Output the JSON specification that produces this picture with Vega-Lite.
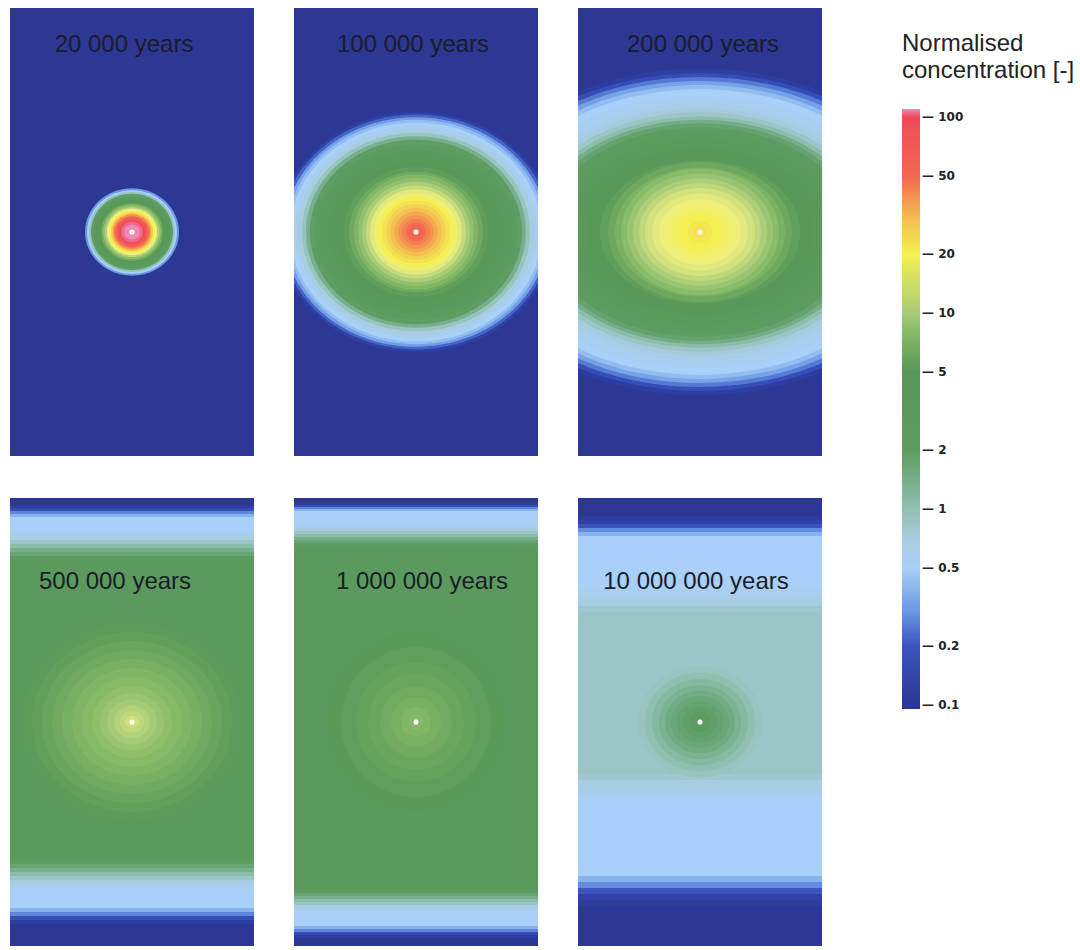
{
  "$schema": "https://vega.github.io/schema/vega-lite/v6.json",
  "padding": {"left": 10, "top": 8, "right": 0, "bottom": 0},
  "background": "white",
  "config": {
    "view": {"stroke": null},
    "font": "Liberation Sans",
    "legend": {"orient": "none", "legendX": 892, "legendY": 24, "direction": "vertical",
      "gradientLength": 600, "gradientThickness": 18, "gradientStrokeWidth": 0,
      "labelFont": "DejaVu Sans", "labelFontWeight": "bold", "labelFontSize": 12, "labelColor": "#222222", "labelOffset": 2,
      "titleFont": "Liberation Sans", "titleFontSize": 24, "titleFontWeight": "normal", "titleColor": "#222222",
      "titlePadding": 26, "titleLineHeight": 27, "titleLimit": 400}
  },
  "resolve": {"scale": {"color": "shared", "size": "shared", "shape": "shared"}, "legend": {"color": "shared"}},
  "columns": 3,
  "spacing": {"row": 42, "column": 40},
  "data": {"values": [
    {"p":"20 000 years","k":"b","x1":-122,"x2":122,"y1":224,"y2":-224,"v":0.1},
    {"p":"100 000 years","k":"b","x1":-122,"x2":122,"y1":224,"y2":-224,"v":0.1},
    {"p":"200 000 years","k":"b","x1":-122,"x2":122,"y1":224,"y2":-224,"v":0.1},

    {"p":"20 000 years","k":"r","cx":0,"cy":0,"r":47,"sh":"e93","v":0.3},
    {"p":"20 000 years","k":"r","cx":0,"cy":0,"r":45,"sh":"e93","v":0.5},
    {"p":"20 000 years","k":"r","cx":0,"cy":0,"r":43,"sh":"e93","v":0.9},
    {"p":"20 000 years","k":"r","cx":0,"cy":0,"r":41,"sh":"e93","v":1.8},
    {"p":"20 000 years","k":"r","cx":0,"cy":0,"r":39,"sh":"e93","v":2.8},
    {"p":"20 000 years","k":"r","cx":0,"cy":0,"r":36,"sh":"e93","v":3.8},
    {"p":"20 000 years","k":"r","cx":0,"cy":0,"r":33,"sh":"e93","v":5},
    {"p":"20 000 years","k":"r","cx":0,"cy":0,"r":31,"sh":"e93","v":6.5},
    {"p":"20 000 years","k":"r","cx":0,"cy":0,"r":29,"sh":"e93","v":8.5},
    {"p":"20 000 years","k":"r","cx":0,"cy":0,"r":27,"sh":"e93","v":11},
    {"p":"20 000 years","k":"r","cx":0,"cy":0,"r":25,"sh":"e93","v":15},
    {"p":"20 000 years","k":"r","cx":0,"cy":0,"r":23,"sh":"e93","v":20},
    {"p":"20 000 years","k":"r","cx":0,"cy":0,"r":21,"sh":"e93","v":28},
    {"p":"20 000 years","k":"r","cx":0,"cy":0,"r":19,"sh":"e93","v":40},
    {"p":"20 000 years","k":"r","cx":0,"cy":0,"r":17,"sh":"e93","v":55},
    {"p":"20 000 years","k":"r","cx":0,"cy":0,"r":15,"sh":"e93","v":75},
    {"p":"20 000 years","k":"r","cx":0,"cy":0,"r":13,"sh":"e93","v":95},
    {"p":"20 000 years","k":"r","cx":0,"cy":0,"r":11,"sh":"e93","v":105},
    {"p":"20 000 years","k":"r","cx":0,"cy":0,"r":8,"sh":"e93","v":110},

    {"p":"100 000 years","k":"r","cx":0,"cy":0,"r":138,"sh":"e87","v":0.15},
    {"p":"100 000 years","k":"r","cx":0,"cy":0,"r":135,"sh":"e87","v":0.22},
    {"p":"100 000 years","k":"r","cx":0,"cy":0,"r":132,"sh":"e87","v":0.32},
    {"p":"100 000 years","k":"r","cx":0,"cy":0,"r":129,"sh":"e87","v":0.42},
    {"p":"100 000 years","k":"r","cx":0,"cy":0,"r":126,"sh":"e87","v":0.5},
    {"p":"100 000 years","k":"r","cx":0,"cy":0,"r":122,"sh":"e87","v":0.58},
    {"p":"100 000 years","k":"r","cx":0,"cy":0,"r":118,"sh":"e87","v":0.7},
    {"p":"100 000 years","k":"r","cx":0,"cy":0,"r":114,"sh":"e87","v":0.9},
    {"p":"100 000 years","k":"r","cx":0,"cy":0,"r":110,"sh":"e87","v":1.3},
    {"p":"100 000 years","k":"r","cx":0,"cy":0,"r":106,"sh":"e87","v":1.9},
    {"p":"100 000 years","k":"r","cx":0,"cy":0,"r":101,"sh":"e87","v":2.6},
    {"p":"100 000 years","k":"r","cx":0,"cy":0,"r":94,"sh":"e87","v":3.3},
    {"p":"100 000 years","k":"r","cx":0,"cy":0,"r":86,"sh":"e90","v":4},
    {"p":"100 000 years","k":"r","cx":0,"cy":0,"r":78,"sh":"e90","v":4.7},
    {"p":"100 000 years","k":"r","cx":0,"cy":0,"r":72,"sh":"e90","v":5.4},
    {"p":"100 000 years","k":"r","cx":0,"cy":0,"r":67,"sh":"e90","v":6.3},
    {"p":"100 000 years","k":"r","cx":0,"cy":0,"r":62,"sh":"e93","v":7.4},
    {"p":"100 000 years","k":"r","cx":0,"cy":0,"r":58,"sh":"e93","v":8.6},
    {"p":"100 000 years","k":"r","cx":0,"cy":0,"r":54,"sh":"e93","v":10},
    {"p":"100 000 years","k":"r","cx":0,"cy":0,"r":50,"sh":"e93","v":11.8},
    {"p":"100 000 years","k":"r","cx":0,"cy":0,"r":46,"sh":"e93","v":14},
    {"p":"100 000 years","k":"r","cx":0,"cy":0,"r":42,"sh":"e93","v":16.5},
    {"p":"100 000 years","k":"r","cx":0,"cy":0,"r":38,"sh":"e93","v":19.5},
    {"p":"100 000 years","k":"r","cx":0,"cy":0,"r":34,"sh":"e93","v":22.5},
    {"p":"100 000 years","k":"r","cx":0,"cy":0,"r":30,"sh":"e93","v":26},
    {"p":"100 000 years","k":"r","cx":0,"cy":0,"r":26,"sh":"e93","v":30},
    {"p":"100 000 years","k":"r","cx":0,"cy":0,"r":22,"sh":"e93","v":34},
    {"p":"100 000 years","k":"r","cx":0,"cy":0,"r":18,"sh":"e93","v":39},
    {"p":"100 000 years","k":"r","cx":0,"cy":0,"r":14,"sh":"e93","v":44},
    {"p":"100 000 years","k":"r","cx":0,"cy":0,"r":10,"sh":"e93","v":49},
    {"p":"100 000 years","k":"r","cx":0,"cy":0,"r":6,"sh":"e93","v":54},

    {"p":"200 000 years","k":"r","cx":0,"cy":0,"r":240,"sh":"e68","v":0.13},
    {"p":"200 000 years","k":"r","cx":0,"cy":0,"r":234,"sh":"e68","v":0.18},
    {"p":"200 000 years","k":"r","cx":0,"cy":0,"r":228,"sh":"e68","v":0.25},
    {"p":"200 000 years","k":"r","cx":0,"cy":0,"r":222,"sh":"e68","v":0.33},
    {"p":"200 000 years","k":"r","cx":0,"cy":0,"r":216,"sh":"e68","v":0.42},
    {"p":"200 000 years","k":"r","cx":0,"cy":0,"r":210,"sh":"e68","v":0.5},
    {"p":"200 000 years","k":"r","cx":0,"cy":0,"r":200,"sh":"e68","v":0.55},
    {"p":"200 000 years","k":"r","cx":0,"cy":0,"r":190,"sh":"e68","v":0.62},
    {"p":"200 000 years","k":"r","cx":0,"cy":0,"r":182,"sh":"e68","v":0.72},
    {"p":"200 000 years","k":"r","cx":0,"cy":0,"r":176,"sh":"e68","v":0.85},
    {"p":"200 000 years","k":"r","cx":0,"cy":0,"r":170,"sh":"e68","v":1.05},
    {"p":"200 000 years","k":"r","cx":0,"cy":0,"r":165,"sh":"e68","v":1.35},
    {"p":"200 000 years","k":"r","cx":0,"cy":0,"r":160,"sh":"e68","v":1.7},
    {"p":"200 000 years","k":"r","cx":0,"cy":0,"r":154,"sh":"e68","v":2.1},
    {"p":"200 000 years","k":"r","cx":0,"cy":0,"r":146,"sh":"e68","v":2.6},
    {"p":"200 000 years","k":"r","cx":0,"cy":0,"r":136,"sh":"e68","v":3.2},
    {"p":"200 000 years","k":"r","cx":0,"cy":0,"r":124,"sh":"e68","v":3.9},
    {"p":"200 000 years","k":"r","cx":0,"cy":0,"r":112,"sh":"e72","v":4.6},
    {"p":"200 000 years","k":"r","cx":0,"cy":0,"r":100,"sh":"e72","v":5.4},
    {"p":"200 000 years","k":"r","cx":0,"cy":0,"r":92,"sh":"e76","v":6.2},
    {"p":"200 000 years","k":"r","cx":0,"cy":0,"r":85,"sh":"e76","v":7},
    {"p":"200 000 years","k":"r","cx":0,"cy":0,"r":79,"sh":"e80","v":8},
    {"p":"200 000 years","k":"r","cx":0,"cy":0,"r":73,"sh":"e80","v":9},
    {"p":"200 000 years","k":"r","cx":0,"cy":0,"r":67,"sh":"e80","v":10.2},
    {"p":"200 000 years","k":"r","cx":0,"cy":0,"r":61,"sh":"e80","v":11.5},
    {"p":"200 000 years","k":"r","cx":0,"cy":0,"r":55,"sh":"e80","v":12.8},
    {"p":"200 000 years","k":"r","cx":0,"cy":0,"r":48,"sh":"e80","v":14},
    {"p":"200 000 years","k":"r","cx":0,"cy":0,"r":41,"sh":"e80","v":15.5},
    {"p":"200 000 years","k":"r","cx":0,"cy":0,"r":34,"sh":"e80","v":17},
    {"p":"200 000 years","k":"r","cx":0,"cy":0,"r":27,"sh":"e80","v":18.5},
    {"p":"200 000 years","k":"r","cx":0,"cy":0,"r":20,"sh":"e80","v":20},
    {"p":"200 000 years","k":"r","cx":0,"cy":0,"r":13,"sh":"e80","v":21.5},
    {"p":"200 000 years","k":"r","cx":0,"cy":0,"r":7,"sh":"e80","v":22.5},

    {"p":"500 000 years","k":"b","x1":-122,"x2":122,"y1":224,"y2":217,"v":0.1},
    {"p":"500 000 years","k":"b","x1":-122,"x2":122,"y1":217,"y2":214,"v":0.13},
    {"p":"500 000 years","k":"b","x1":-122,"x2":122,"y1":214,"y2":211,"v":0.18},
    {"p":"500 000 years","k":"b","x1":-122,"x2":122,"y1":211,"y2":208,"v":0.27},
    {"p":"500 000 years","k":"b","x1":-122,"x2":122,"y1":208,"y2":205,"v":0.38},
    {"p":"500 000 years","k":"b","x1":-122,"x2":122,"y1":205,"y2":190,"v":0.5},
    {"p":"500 000 years","k":"b","x1":-122,"x2":122,"y1":190,"y2":186,"v":0.6},
    {"p":"500 000 years","k":"b","x1":-122,"x2":122,"y1":186,"y2":182,"v":0.7},
    {"p":"500 000 years","k":"b","x1":-122,"x2":122,"y1":182,"y2":178,"v":0.85},
    {"p":"500 000 years","k":"b","x1":-122,"x2":122,"y1":178,"y2":174,"v":1.05},
    {"p":"500 000 years","k":"b","x1":-122,"x2":122,"y1":174,"y2":170,"v":1.3},
    {"p":"500 000 years","k":"b","x1":-122,"x2":122,"y1":170,"y2":166,"v":1.6},
    {"p":"500 000 years","k":"b","x1":-122,"x2":122,"y1":166,"y2":162,"v":2},
    {"p":"500 000 years","k":"b","x1":-122,"x2":122,"y1":162,"y2":-138,"v":3},
    {"p":"500 000 years","k":"b","x1":-122,"x2":122,"y1":-138,"y2":-142,"v":2},
    {"p":"500 000 years","k":"b","x1":-122,"x2":122,"y1":-142,"y2":-146,"v":1.6},
    {"p":"500 000 years","k":"b","x1":-122,"x2":122,"y1":-146,"y2":-150,"v":1.3},
    {"p":"500 000 years","k":"b","x1":-122,"x2":122,"y1":-150,"y2":-154,"v":1.05},
    {"p":"500 000 years","k":"b","x1":-122,"x2":122,"y1":-154,"y2":-158,"v":0.85},
    {"p":"500 000 years","k":"b","x1":-122,"x2":122,"y1":-158,"y2":-162,"v":0.7},
    {"p":"500 000 years","k":"b","x1":-122,"x2":122,"y1":-162,"y2":-166,"v":0.6},
    {"p":"500 000 years","k":"b","x1":-122,"x2":122,"y1":-166,"y2":-186,"v":0.5},
    {"p":"500 000 years","k":"b","x1":-122,"x2":122,"y1":-186,"y2":-190,"v":0.38},
    {"p":"500 000 years","k":"b","x1":-122,"x2":122,"y1":-190,"y2":-194,"v":0.27},
    {"p":"500 000 years","k":"b","x1":-122,"x2":122,"y1":-194,"y2":-198,"v":0.18},
    {"p":"500 000 years","k":"b","x1":-122,"x2":122,"y1":-198,"y2":-202,"v":0.13},
    {"p":"500 000 years","k":"b","x1":-122,"x2":122,"y1":-202,"y2":-224,"v":0.1},
    {"p":"500 000 years","k":"r","cx":0,"cy":0,"r":110,"sh":"e90","v":5.2},
    {"p":"500 000 years","k":"r","cx":0,"cy":0,"r":100,"sh":"e90","v":5.5},
    {"p":"500 000 years","k":"r","cx":0,"cy":0,"r":90,"sh":"e90","v":5.9},
    {"p":"500 000 years","k":"r","cx":0,"cy":0,"r":80,"sh":"e90","v":6.3},
    {"p":"500 000 years","k":"r","cx":0,"cy":0,"r":70,"sh":"e90","v":6.8},
    {"p":"500 000 years","k":"r","cx":0,"cy":0,"r":60,"sh":"e90","v":7.3},
    {"p":"500 000 years","k":"r","cx":0,"cy":0,"r":50,"sh":"e90","v":7.8},
    {"p":"500 000 years","k":"r","cx":0,"cy":0,"r":40,"sh":"e90","v":8.4},
    {"p":"500 000 years","k":"r","cx":0,"cy":0,"r":32,"sh":"e90","v":9},
    {"p":"500 000 years","k":"r","cx":0,"cy":0,"r":25,"sh":"e90","v":9.8},
    {"p":"500 000 years","k":"r","cx":0,"cy":0,"r":18,"sh":"e90","v":10.7},
    {"p":"500 000 years","k":"r","cx":0,"cy":0,"r":12,"sh":"e90","v":11.5},
    {"p":"500 000 years","k":"r","cx":0,"cy":0,"r":7,"sh":"e90","v":12.5},

    {"p":"1 000 000 years","k":"b","x1":-122,"x2":122,"y1":224,"y2":219,"v":0.1},
    {"p":"1 000 000 years","k":"b","x1":-122,"x2":122,"y1":219,"y2":217,"v":0.13},
    {"p":"1 000 000 years","k":"b","x1":-122,"x2":122,"y1":217,"y2":215,"v":0.18},
    {"p":"1 000 000 years","k":"b","x1":-122,"x2":122,"y1":215,"y2":213,"v":0.27},
    {"p":"1 000 000 years","k":"b","x1":-122,"x2":122,"y1":213,"y2":211,"v":0.38},
    {"p":"1 000 000 years","k":"b","x1":-122,"x2":122,"y1":211,"y2":197,"v":0.5},
    {"p":"1 000 000 years","k":"b","x1":-122,"x2":122,"y1":197,"y2":194,"v":0.6},
    {"p":"1 000 000 years","k":"b","x1":-122,"x2":122,"y1":194,"y2":191,"v":0.7},
    {"p":"1 000 000 years","k":"b","x1":-122,"x2":122,"y1":191,"y2":188,"v":0.85},
    {"p":"1 000 000 years","k":"b","x1":-122,"x2":122,"y1":188,"y2":185,"v":1.05},
    {"p":"1 000 000 years","k":"b","x1":-122,"x2":122,"y1":185,"y2":182,"v":1.3},
    {"p":"1 000 000 years","k":"b","x1":-122,"x2":122,"y1":182,"y2":179,"v":1.6},
    {"p":"1 000 000 years","k":"b","x1":-122,"x2":122,"y1":179,"y2":176,"v":2},
    {"p":"1 000 000 years","k":"b","x1":-122,"x2":122,"y1":176,"y2":-168,"v":3},
    {"p":"1 000 000 years","k":"b","x1":-122,"x2":122,"y1":-168,"y2":-171,"v":2},
    {"p":"1 000 000 years","k":"b","x1":-122,"x2":122,"y1":-171,"y2":-174,"v":1.6},
    {"p":"1 000 000 years","k":"b","x1":-122,"x2":122,"y1":-174,"y2":-177,"v":1.3},
    {"p":"1 000 000 years","k":"b","x1":-122,"x2":122,"y1":-177,"y2":-180,"v":1.05},
    {"p":"1 000 000 years","k":"b","x1":-122,"x2":122,"y1":-180,"y2":-183,"v":0.85},
    {"p":"1 000 000 years","k":"b","x1":-122,"x2":122,"y1":-183,"y2":-186,"v":0.7},
    {"p":"1 000 000 years","k":"b","x1":-122,"x2":122,"y1":-186,"y2":-189,"v":0.6},
    {"p":"1 000 000 years","k":"b","x1":-122,"x2":122,"y1":-189,"y2":-204,"v":0.5},
    {"p":"1 000 000 years","k":"b","x1":-122,"x2":122,"y1":-204,"y2":-207,"v":0.38},
    {"p":"1 000 000 years","k":"b","x1":-122,"x2":122,"y1":-207,"y2":-210,"v":0.27},
    {"p":"1 000 000 years","k":"b","x1":-122,"x2":122,"y1":-210,"y2":-213,"v":0.18},
    {"p":"1 000 000 years","k":"b","x1":-122,"x2":122,"y1":-213,"y2":-216,"v":0.13},
    {"p":"1 000 000 years","k":"b","x1":-122,"x2":122,"y1":-216,"y2":-224,"v":0.1},
    {"p":"1 000 000 years","k":"r","cx":0,"cy":0,"r":90,"sh":"c","v":5.1},
    {"p":"1 000 000 years","k":"r","cx":0,"cy":0,"r":75,"sh":"c","v":5.4},
    {"p":"1 000 000 years","k":"r","cx":0,"cy":0,"r":60,"sh":"c","v":5.7},
    {"p":"1 000 000 years","k":"r","cx":0,"cy":0,"r":48,"sh":"c","v":6},
    {"p":"1 000 000 years","k":"r","cx":0,"cy":0,"r":36,"sh":"c","v":6.4},
    {"p":"1 000 000 years","k":"r","cx":0,"cy":0,"r":25,"sh":"c","v":6.9},
    {"p":"1 000 000 years","k":"r","cx":0,"cy":0,"r":15,"sh":"c","v":7.4},
    {"p":"1 000 000 years","k":"r","cx":0,"cy":0,"r":8,"sh":"c","v":7.8},

    {"p":"10 000 000 years","k":"b","x1":-122,"x2":122,"y1":224,"y2":206,"v":0.1},
    {"p":"10 000 000 years","k":"b","x1":-122,"x2":122,"y1":206,"y2":202,"v":0.12},
    {"p":"10 000 000 years","k":"b","x1":-122,"x2":122,"y1":202,"y2":198,"v":0.15},
    {"p":"10 000 000 years","k":"b","x1":-122,"x2":122,"y1":198,"y2":194,"v":0.2},
    {"p":"10 000 000 years","k":"b","x1":-122,"x2":122,"y1":194,"y2":190,"v":0.28},
    {"p":"10 000 000 years","k":"b","x1":-122,"x2":122,"y1":190,"y2":186,"v":0.38},
    {"p":"10 000 000 years","k":"b","x1":-122,"x2":122,"y1":186,"y2":134,"v":0.5},
    {"p":"10 000 000 years","k":"b","x1":-122,"x2":122,"y1":134,"y2":128,"v":0.56},
    {"p":"10 000 000 years","k":"b","x1":-122,"x2":122,"y1":128,"y2":122,"v":0.62},
    {"p":"10 000 000 years","k":"b","x1":-122,"x2":122,"y1":122,"y2":116,"v":0.7},
    {"p":"10 000 000 years","k":"b","x1":-122,"x2":122,"y1":116,"y2":110,"v":0.78},
    {"p":"10 000 000 years","k":"b","x1":-122,"x2":122,"y1":110,"y2":-52,"v":0.85},
    {"p":"10 000 000 years","k":"b","x1":-122,"x2":122,"y1":-52,"y2":-58,"v":0.78},
    {"p":"10 000 000 years","k":"b","x1":-122,"x2":122,"y1":-58,"y2":-64,"v":0.7},
    {"p":"10 000 000 years","k":"b","x1":-122,"x2":122,"y1":-64,"y2":-70,"v":0.62},
    {"p":"10 000 000 years","k":"b","x1":-122,"x2":122,"y1":-70,"y2":-76,"v":0.56},
    {"p":"10 000 000 years","k":"b","x1":-122,"x2":122,"y1":-76,"y2":-154,"v":0.5},
    {"p":"10 000 000 years","k":"b","x1":-122,"x2":122,"y1":-154,"y2":-160,"v":0.38},
    {"p":"10 000 000 years","k":"b","x1":-122,"x2":122,"y1":-160,"y2":-166,"v":0.28},
    {"p":"10 000 000 years","k":"b","x1":-122,"x2":122,"y1":-166,"y2":-172,"v":0.2},
    {"p":"10 000 000 years","k":"b","x1":-122,"x2":122,"y1":-172,"y2":-178,"v":0.15},
    {"p":"10 000 000 years","k":"b","x1":-122,"x2":122,"y1":-178,"y2":-184,"v":0.12},
    {"p":"10 000 000 years","k":"b","x1":-122,"x2":122,"y1":-184,"y2":-224,"v":0.1},
    {"p":"10 000 000 years","k":"r","cx":0,"cy":0,"r":62,"sh":"e90","v":0.9},
    {"p":"10 000 000 years","k":"r","cx":0,"cy":0,"r":55,"sh":"e90","v":1.0},
    {"p":"10 000 000 years","k":"r","cx":0,"cy":0,"r":48,"sh":"e90","v":1.12},
    {"p":"10 000 000 years","k":"r","cx":0,"cy":0,"r":41,"sh":"e90","v":1.25},
    {"p":"10 000 000 years","k":"r","cx":0,"cy":0,"r":35,"sh":"e90","v":1.4},
    {"p":"10 000 000 years","k":"r","cx":0,"cy":0,"r":29,"sh":"e90","v":1.55},
    {"p":"10 000 000 years","k":"r","cx":0,"cy":0,"r":23,"sh":"e90","v":1.7},
    {"p":"10 000 000 years","k":"r","cx":0,"cy":0,"r":17,"sh":"e90","v":1.85},
    {"p":"10 000 000 years","k":"r","cx":0,"cy":0,"r":11,"sh":"e90","v":2},
    {"p":"10 000 000 years","k":"r","cx":0,"cy":0,"r":6,"sh":"e90","v":2.1},

    {"p":"20 000 years","k":"s","cx":0,"cy":0},
    {"p":"100 000 years","k":"s","cx":0,"cy":0},
    {"p":"200 000 years","k":"s","cx":0,"cy":0},
    {"p":"500 000 years","k":"s","cx":0,"cy":0},
    {"p":"1 000 000 years","k":"s","cx":0,"cy":0},
    {"p":"10 000 000 years","k":"s","cx":0,"cy":0},

    {"p":"20 000 years","k":"t","cx":-8,"cy":180},
    {"p":"100 000 years","k":"t","cx":-3,"cy":180},
    {"p":"200 000 years","k":"t","cx":3,"cy":180},
    {"p":"500 000 years","k":"t","cx":-17,"cy":133},
    {"p":"1 000 000 years","k":"t","cx":6,"cy":133},
    {"p":"10 000 000 years","k":"t","cx":-4,"cy":133}
  ]},
  "concat": [
    {"width": 244, "height": 448, "transform": [{"filter": "datum.p == '20 000 years'"}], "layer": [
      {"transform": [{"filter": "datum.k == 'b'"}], "mark": {"type": "rect", "clip": true}, "encoding": {
        "x": {"field": "x1", "type": "quantitative", "scale": {"domain": [-122, 122], "nice": false, "zero": false}, "axis": null}, "x2": {"field": "x2"},
        "y": {"field": "y1", "type": "quantitative", "scale": {"domain": [-224, 224], "nice": false, "zero": false}, "axis": null}, "y2": {"field": "y2"},
        "color": {"field": "v", "type": "quantitative", "title": ["Normalised", "concentration [-]"], "scale": {"type": "log", "interpolate": "rgb", "domain": [0.095,0.15,0.2,0.3,0.5,0.7,1,1.5,2,5,8,10,15,20,30,50,100,110], "range": ["#2b3790","#3040a8","#3a55c0","#6a98e4","#a8d0f8","#a8cce0","#90c0b0","#6aa87a","#5c9c60","#589858","#88bc68","#a8cc78","#eef080","#f4f050","#f4c050","#f26850","#f04a58","#f088b8"]}, "legend": {"values": [0.1,0.2,0.5,1,2,5,10,20,50,100], "format": "~g", "labelExpr": "'\u2014  ' + datum.label"}}}},
      {"transform": [{"filter": "datum.k == 'r'"}], "mark": {"type": "point", "filled": true, "opacity": 1, "strokeWidth": 0, "clip": true}, "encoding": {
        "x": {"field": "cx", "type": "quantitative", "axis": null}, "y": {"field": "cy", "type": "quantitative", "axis": null},
        "size": {"field": "r", "type": "quantitative", "scale": {"type": "pow", "exponent": 2, "domain": [0, 250], "range": [0, 250000]}, "legend": null},
        "shape": {"field": "sh", "type": "nominal", "legend": null, "scale": {"domain": ["e68","e72","e76","e80","e87","e90","e93","c"], "range": ["M-1,0A1,0.68,0,1,1,1,0A1,0.68,0,1,1,-1,0Z","M-1,0A1,0.72,0,1,1,1,0A1,0.72,0,1,1,-1,0Z","M-1,0A1,0.76,0,1,1,1,0A1,0.76,0,1,1,-1,0Z","M-1,0A1,0.8,0,1,1,1,0A1,0.8,0,1,1,-1,0Z","M-1,0A1,0.87,0,1,1,1,0A1,0.87,0,1,1,-1,0Z","M-1,0A1,0.9,0,1,1,1,0A1,0.9,0,1,1,-1,0Z","M-1,0A1,0.93,0,1,1,1,0A1,0.93,0,1,1,-1,0Z","circle"]}},
        "order": {"field": "r", "sort": "descending"},
        "color": {"field": "v", "type": "quantitative", "title": ["Normalised", "concentration [-]"], "scale": {"type": "log", "interpolate": "rgb", "domain": [0.095,0.15,0.2,0.3,0.5,0.7,1,1.5,2,5,8,10,15,20,30,50,100,110], "range": ["#2b3790","#3040a8","#3a55c0","#6a98e4","#a8d0f8","#a8cce0","#90c0b0","#6aa87a","#5c9c60","#589858","#88bc68","#a8cc78","#eef080","#f4f050","#f4c050","#f26850","#f04a58","#f088b8"]}, "legend": {"values": [0.1,0.2,0.5,1,2,5,10,20,50,100], "format": "~g", "labelExpr": "'\u2014  ' + datum.label"}}}},
      {"transform": [{"filter": "datum.k == 's'"}], "mark": {"type": "point", "filled": true, "opacity": 1, "strokeWidth": 0, "color": "#ffffff", "size": 26}, "encoding": {
        "x": {"field": "cx", "type": "quantitative", "axis": null}, "y": {"field": "cy", "type": "quantitative", "axis": null}}},
      {"transform": [{"filter": "datum.k == 't'"}], "mark": {"type": "text", "font": "Liberation Sans", "fontSize": 24, "baseline": "alphabetic", "color": "#1c1c2a"}, "encoding": {
        "x": {"field": "cx", "type": "quantitative", "axis": null}, "y": {"field": "cy", "type": "quantitative", "axis": null}, "text": {"field": "p", "type": "nominal"}}}
    ]},
    {"width": 244, "height": 448, "transform": [{"filter": "datum.p == '100 000 years'"}], "layer": [
      {"transform": [{"filter": "datum.k == 'b'"}], "mark": {"type": "rect", "clip": true}, "encoding": {
        "x": {"field": "x1", "type": "quantitative", "scale": {"domain": [-122, 122], "nice": false, "zero": false}, "axis": null}, "x2": {"field": "x2"},
        "y": {"field": "y1", "type": "quantitative", "scale": {"domain": [-224, 224], "nice": false, "zero": false}, "axis": null}, "y2": {"field": "y2"},
        "color": {"field": "v", "type": "quantitative", "title": ["Normalised", "concentration [-]"], "scale": {"type": "log", "interpolate": "rgb", "domain": [0.095,0.15,0.2,0.3,0.5,0.7,1,1.5,2,5,8,10,15,20,30,50,100,110], "range": ["#2b3790","#3040a8","#3a55c0","#6a98e4","#a8d0f8","#a8cce0","#90c0b0","#6aa87a","#5c9c60","#589858","#88bc68","#a8cc78","#eef080","#f4f050","#f4c050","#f26850","#f04a58","#f088b8"]}, "legend": {"values": [0.1,0.2,0.5,1,2,5,10,20,50,100], "format": "~g", "labelExpr": "'\u2014  ' + datum.label"}}}},
      {"transform": [{"filter": "datum.k == 'r'"}], "mark": {"type": "point", "filled": true, "opacity": 1, "strokeWidth": 0, "clip": true}, "encoding": {
        "x": {"field": "cx", "type": "quantitative", "axis": null}, "y": {"field": "cy", "type": "quantitative", "axis": null},
        "size": {"field": "r", "type": "quantitative", "scale": {"type": "pow", "exponent": 2, "domain": [0, 250], "range": [0, 250000]}, "legend": null},
        "shape": {"field": "sh", "type": "nominal", "legend": null, "scale": {"domain": ["e68","e72","e76","e80","e87","e90","e93","c"], "range": ["M-1,0A1,0.68,0,1,1,1,0A1,0.68,0,1,1,-1,0Z","M-1,0A1,0.72,0,1,1,1,0A1,0.72,0,1,1,-1,0Z","M-1,0A1,0.76,0,1,1,1,0A1,0.76,0,1,1,-1,0Z","M-1,0A1,0.8,0,1,1,1,0A1,0.8,0,1,1,-1,0Z","M-1,0A1,0.87,0,1,1,1,0A1,0.87,0,1,1,-1,0Z","M-1,0A1,0.9,0,1,1,1,0A1,0.9,0,1,1,-1,0Z","M-1,0A1,0.93,0,1,1,1,0A1,0.93,0,1,1,-1,0Z","circle"]}},
        "order": {"field": "r", "sort": "descending"},
        "color": {"field": "v", "type": "quantitative", "title": ["Normalised", "concentration [-]"], "scale": {"type": "log", "interpolate": "rgb", "domain": [0.095,0.15,0.2,0.3,0.5,0.7,1,1.5,2,5,8,10,15,20,30,50,100,110], "range": ["#2b3790","#3040a8","#3a55c0","#6a98e4","#a8d0f8","#a8cce0","#90c0b0","#6aa87a","#5c9c60","#589858","#88bc68","#a8cc78","#eef080","#f4f050","#f4c050","#f26850","#f04a58","#f088b8"]}, "legend": {"values": [0.1,0.2,0.5,1,2,5,10,20,50,100], "format": "~g", "labelExpr": "'\u2014  ' + datum.label"}}}},
      {"transform": [{"filter": "datum.k == 's'"}], "mark": {"type": "point", "filled": true, "opacity": 1, "strokeWidth": 0, "color": "#ffffff", "size": 26}, "encoding": {
        "x": {"field": "cx", "type": "quantitative", "axis": null}, "y": {"field": "cy", "type": "quantitative", "axis": null}}},
      {"transform": [{"filter": "datum.k == 't'"}], "mark": {"type": "text", "font": "Liberation Sans", "fontSize": 24, "baseline": "alphabetic", "color": "#1c1c2a"}, "encoding": {
        "x": {"field": "cx", "type": "quantitative", "axis": null}, "y": {"field": "cy", "type": "quantitative", "axis": null}, "text": {"field": "p", "type": "nominal"}}}
    ]},
    {"width": 244, "height": 448, "transform": [{"filter": "datum.p == '200 000 years'"}], "layer": [
      {"transform": [{"filter": "datum.k == 'b'"}], "mark": {"type": "rect", "clip": true}, "encoding": {
        "x": {"field": "x1", "type": "quantitative", "scale": {"domain": [-122, 122], "nice": false, "zero": false}, "axis": null}, "x2": {"field": "x2"},
        "y": {"field": "y1", "type": "quantitative", "scale": {"domain": [-224, 224], "nice": false, "zero": false}, "axis": null}, "y2": {"field": "y2"},
        "color": {"field": "v", "type": "quantitative", "title": ["Normalised", "concentration [-]"], "scale": {"type": "log", "interpolate": "rgb", "domain": [0.095,0.15,0.2,0.3,0.5,0.7,1,1.5,2,5,8,10,15,20,30,50,100,110], "range": ["#2b3790","#3040a8","#3a55c0","#6a98e4","#a8d0f8","#a8cce0","#90c0b0","#6aa87a","#5c9c60","#589858","#88bc68","#a8cc78","#eef080","#f4f050","#f4c050","#f26850","#f04a58","#f088b8"]}, "legend": {"values": [0.1,0.2,0.5,1,2,5,10,20,50,100], "format": "~g", "labelExpr": "'\u2014  ' + datum.label"}}}},
      {"transform": [{"filter": "datum.k == 'r'"}], "mark": {"type": "point", "filled": true, "opacity": 1, "strokeWidth": 0, "clip": true}, "encoding": {
        "x": {"field": "cx", "type": "quantitative", "axis": null}, "y": {"field": "cy", "type": "quantitative", "axis": null},
        "size": {"field": "r", "type": "quantitative", "scale": {"type": "pow", "exponent": 2, "domain": [0, 250], "range": [0, 250000]}, "legend": null},
        "shape": {"field": "sh", "type": "nominal", "legend": null, "scale": {"domain": ["e68","e72","e76","e80","e87","e90","e93","c"], "range": ["M-1,0A1,0.68,0,1,1,1,0A1,0.68,0,1,1,-1,0Z","M-1,0A1,0.72,0,1,1,1,0A1,0.72,0,1,1,-1,0Z","M-1,0A1,0.76,0,1,1,1,0A1,0.76,0,1,1,-1,0Z","M-1,0A1,0.8,0,1,1,1,0A1,0.8,0,1,1,-1,0Z","M-1,0A1,0.87,0,1,1,1,0A1,0.87,0,1,1,-1,0Z","M-1,0A1,0.9,0,1,1,1,0A1,0.9,0,1,1,-1,0Z","M-1,0A1,0.93,0,1,1,1,0A1,0.93,0,1,1,-1,0Z","circle"]}},
        "order": {"field": "r", "sort": "descending"},
        "color": {"field": "v", "type": "quantitative", "title": ["Normalised", "concentration [-]"], "scale": {"type": "log", "interpolate": "rgb", "domain": [0.095,0.15,0.2,0.3,0.5,0.7,1,1.5,2,5,8,10,15,20,30,50,100,110], "range": ["#2b3790","#3040a8","#3a55c0","#6a98e4","#a8d0f8","#a8cce0","#90c0b0","#6aa87a","#5c9c60","#589858","#88bc68","#a8cc78","#eef080","#f4f050","#f4c050","#f26850","#f04a58","#f088b8"]}, "legend": {"values": [0.1,0.2,0.5,1,2,5,10,20,50,100], "format": "~g", "labelExpr": "'\u2014  ' + datum.label"}}}},
      {"transform": [{"filter": "datum.k == 's'"}], "mark": {"type": "point", "filled": true, "opacity": 1, "strokeWidth": 0, "color": "#ffffff", "size": 26}, "encoding": {
        "x": {"field": "cx", "type": "quantitative", "axis": null}, "y": {"field": "cy", "type": "quantitative", "axis": null}}},
      {"transform": [{"filter": "datum.k == 't'"}], "mark": {"type": "text", "font": "Liberation Sans", "fontSize": 24, "baseline": "alphabetic", "color": "#1c1c2a"}, "encoding": {
        "x": {"field": "cx", "type": "quantitative", "axis": null}, "y": {"field": "cy", "type": "quantitative", "axis": null}, "text": {"field": "p", "type": "nominal"}}}
    ]},
    {"width": 244, "height": 448, "transform": [{"filter": "datum.p == '500 000 years'"}], "layer": [
      {"transform": [{"filter": "datum.k == 'b'"}], "mark": {"type": "rect", "clip": true}, "encoding": {
        "x": {"field": "x1", "type": "quantitative", "scale": {"domain": [-122, 122], "nice": false, "zero": false}, "axis": null}, "x2": {"field": "x2"},
        "y": {"field": "y1", "type": "quantitative", "scale": {"domain": [-224, 224], "nice": false, "zero": false}, "axis": null}, "y2": {"field": "y2"},
        "color": {"field": "v", "type": "quantitative", "title": ["Normalised", "concentration [-]"], "scale": {"type": "log", "interpolate": "rgb", "domain": [0.095,0.15,0.2,0.3,0.5,0.7,1,1.5,2,5,8,10,15,20,30,50,100,110], "range": ["#2b3790","#3040a8","#3a55c0","#6a98e4","#a8d0f8","#a8cce0","#90c0b0","#6aa87a","#5c9c60","#589858","#88bc68","#a8cc78","#eef080","#f4f050","#f4c050","#f26850","#f04a58","#f088b8"]}, "legend": {"values": [0.1,0.2,0.5,1,2,5,10,20,50,100], "format": "~g", "labelExpr": "'\u2014  ' + datum.label"}}}},
      {"transform": [{"filter": "datum.k == 'r'"}], "mark": {"type": "point", "filled": true, "opacity": 1, "strokeWidth": 0, "clip": true}, "encoding": {
        "x": {"field": "cx", "type": "quantitative", "axis": null}, "y": {"field": "cy", "type": "quantitative", "axis": null},
        "size": {"field": "r", "type": "quantitative", "scale": {"type": "pow", "exponent": 2, "domain": [0, 250], "range": [0, 250000]}, "legend": null},
        "shape": {"field": "sh", "type": "nominal", "legend": null, "scale": {"domain": ["e68","e72","e76","e80","e87","e90","e93","c"], "range": ["M-1,0A1,0.68,0,1,1,1,0A1,0.68,0,1,1,-1,0Z","M-1,0A1,0.72,0,1,1,1,0A1,0.72,0,1,1,-1,0Z","M-1,0A1,0.76,0,1,1,1,0A1,0.76,0,1,1,-1,0Z","M-1,0A1,0.8,0,1,1,1,0A1,0.8,0,1,1,-1,0Z","M-1,0A1,0.87,0,1,1,1,0A1,0.87,0,1,1,-1,0Z","M-1,0A1,0.9,0,1,1,1,0A1,0.9,0,1,1,-1,0Z","M-1,0A1,0.93,0,1,1,1,0A1,0.93,0,1,1,-1,0Z","circle"]}},
        "order": {"field": "r", "sort": "descending"},
        "color": {"field": "v", "type": "quantitative", "title": ["Normalised", "concentration [-]"], "scale": {"type": "log", "interpolate": "rgb", "domain": [0.095,0.15,0.2,0.3,0.5,0.7,1,1.5,2,5,8,10,15,20,30,50,100,110], "range": ["#2b3790","#3040a8","#3a55c0","#6a98e4","#a8d0f8","#a8cce0","#90c0b0","#6aa87a","#5c9c60","#589858","#88bc68","#a8cc78","#eef080","#f4f050","#f4c050","#f26850","#f04a58","#f088b8"]}, "legend": {"values": [0.1,0.2,0.5,1,2,5,10,20,50,100], "format": "~g", "labelExpr": "'\u2014  ' + datum.label"}}}},
      {"transform": [{"filter": "datum.k == 's'"}], "mark": {"type": "point", "filled": true, "opacity": 1, "strokeWidth": 0, "color": "#ffffff", "size": 26}, "encoding": {
        "x": {"field": "cx", "type": "quantitative", "axis": null}, "y": {"field": "cy", "type": "quantitative", "axis": null}}},
      {"transform": [{"filter": "datum.k == 't'"}], "mark": {"type": "text", "font": "Liberation Sans", "fontSize": 24, "baseline": "alphabetic", "color": "#1c1c2a"}, "encoding": {
        "x": {"field": "cx", "type": "quantitative", "axis": null}, "y": {"field": "cy", "type": "quantitative", "axis": null}, "text": {"field": "p", "type": "nominal"}}}
    ]},
    {"width": 244, "height": 448, "transform": [{"filter": "datum.p == '1 000 000 years'"}], "layer": [
      {"transform": [{"filter": "datum.k == 'b'"}], "mark": {"type": "rect", "clip": true}, "encoding": {
        "x": {"field": "x1", "type": "quantitative", "scale": {"domain": [-122, 122], "nice": false, "zero": false}, "axis": null}, "x2": {"field": "x2"},
        "y": {"field": "y1", "type": "quantitative", "scale": {"domain": [-224, 224], "nice": false, "zero": false}, "axis": null}, "y2": {"field": "y2"},
        "color": {"field": "v", "type": "quantitative", "title": ["Normalised", "concentration [-]"], "scale": {"type": "log", "interpolate": "rgb", "domain": [0.095,0.15,0.2,0.3,0.5,0.7,1,1.5,2,5,8,10,15,20,30,50,100,110], "range": ["#2b3790","#3040a8","#3a55c0","#6a98e4","#a8d0f8","#a8cce0","#90c0b0","#6aa87a","#5c9c60","#589858","#88bc68","#a8cc78","#eef080","#f4f050","#f4c050","#f26850","#f04a58","#f088b8"]}, "legend": {"values": [0.1,0.2,0.5,1,2,5,10,20,50,100], "format": "~g", "labelExpr": "'\u2014  ' + datum.label"}}}},
      {"transform": [{"filter": "datum.k == 'r'"}], "mark": {"type": "point", "filled": true, "opacity": 1, "strokeWidth": 0, "clip": true}, "encoding": {
        "x": {"field": "cx", "type": "quantitative", "axis": null}, "y": {"field": "cy", "type": "quantitative", "axis": null},
        "size": {"field": "r", "type": "quantitative", "scale": {"type": "pow", "exponent": 2, "domain": [0, 250], "range": [0, 250000]}, "legend": null},
        "shape": {"field": "sh", "type": "nominal", "legend": null, "scale": {"domain": ["e68","e72","e76","e80","e87","e90","e93","c"], "range": ["M-1,0A1,0.68,0,1,1,1,0A1,0.68,0,1,1,-1,0Z","M-1,0A1,0.72,0,1,1,1,0A1,0.72,0,1,1,-1,0Z","M-1,0A1,0.76,0,1,1,1,0A1,0.76,0,1,1,-1,0Z","M-1,0A1,0.8,0,1,1,1,0A1,0.8,0,1,1,-1,0Z","M-1,0A1,0.87,0,1,1,1,0A1,0.87,0,1,1,-1,0Z","M-1,0A1,0.9,0,1,1,1,0A1,0.9,0,1,1,-1,0Z","M-1,0A1,0.93,0,1,1,1,0A1,0.93,0,1,1,-1,0Z","circle"]}},
        "order": {"field": "r", "sort": "descending"},
        "color": {"field": "v", "type": "quantitative", "title": ["Normalised", "concentration [-]"], "scale": {"type": "log", "interpolate": "rgb", "domain": [0.095,0.15,0.2,0.3,0.5,0.7,1,1.5,2,5,8,10,15,20,30,50,100,110], "range": ["#2b3790","#3040a8","#3a55c0","#6a98e4","#a8d0f8","#a8cce0","#90c0b0","#6aa87a","#5c9c60","#589858","#88bc68","#a8cc78","#eef080","#f4f050","#f4c050","#f26850","#f04a58","#f088b8"]}, "legend": {"values": [0.1,0.2,0.5,1,2,5,10,20,50,100], "format": "~g", "labelExpr": "'\u2014  ' + datum.label"}}}},
      {"transform": [{"filter": "datum.k == 's'"}], "mark": {"type": "point", "filled": true, "opacity": 1, "strokeWidth": 0, "color": "#ffffff", "size": 26}, "encoding": {
        "x": {"field": "cx", "type": "quantitative", "axis": null}, "y": {"field": "cy", "type": "quantitative", "axis": null}}},
      {"transform": [{"filter": "datum.k == 't'"}], "mark": {"type": "text", "font": "Liberation Sans", "fontSize": 24, "baseline": "alphabetic", "color": "#1c1c2a"}, "encoding": {
        "x": {"field": "cx", "type": "quantitative", "axis": null}, "y": {"field": "cy", "type": "quantitative", "axis": null}, "text": {"field": "p", "type": "nominal"}}}
    ]},
    {"width": 244, "height": 448, "transform": [{"filter": "datum.p == '10 000 000 years'"}], "layer": [
      {"transform": [{"filter": "datum.k == 'b'"}], "mark": {"type": "rect", "clip": true}, "encoding": {
        "x": {"field": "x1", "type": "quantitative", "scale": {"domain": [-122, 122], "nice": false, "zero": false}, "axis": null}, "x2": {"field": "x2"},
        "y": {"field": "y1", "type": "quantitative", "scale": {"domain": [-224, 224], "nice": false, "zero": false}, "axis": null}, "y2": {"field": "y2"},
        "color": {"field": "v", "type": "quantitative", "title": ["Normalised", "concentration [-]"], "scale": {"type": "log", "interpolate": "rgb", "domain": [0.095,0.15,0.2,0.3,0.5,0.7,1,1.5,2,5,8,10,15,20,30,50,100,110], "range": ["#2b3790","#3040a8","#3a55c0","#6a98e4","#a8d0f8","#a8cce0","#90c0b0","#6aa87a","#5c9c60","#589858","#88bc68","#a8cc78","#eef080","#f4f050","#f4c050","#f26850","#f04a58","#f088b8"]}, "legend": {"values": [0.1,0.2,0.5,1,2,5,10,20,50,100], "format": "~g", "labelExpr": "'\u2014  ' + datum.label"}}}},
      {"transform": [{"filter": "datum.k == 'r'"}], "mark": {"type": "point", "filled": true, "opacity": 1, "strokeWidth": 0, "clip": true}, "encoding": {
        "x": {"field": "cx", "type": "quantitative", "axis": null}, "y": {"field": "cy", "type": "quantitative", "axis": null},
        "size": {"field": "r", "type": "quantitative", "scale": {"type": "pow", "exponent": 2, "domain": [0, 250], "range": [0, 250000]}, "legend": null},
        "shape": {"field": "sh", "type": "nominal", "legend": null, "scale": {"domain": ["e68","e72","e76","e80","e87","e90","e93","c"], "range": ["M-1,0A1,0.68,0,1,1,1,0A1,0.68,0,1,1,-1,0Z","M-1,0A1,0.72,0,1,1,1,0A1,0.72,0,1,1,-1,0Z","M-1,0A1,0.76,0,1,1,1,0A1,0.76,0,1,1,-1,0Z","M-1,0A1,0.8,0,1,1,1,0A1,0.8,0,1,1,-1,0Z","M-1,0A1,0.87,0,1,1,1,0A1,0.87,0,1,1,-1,0Z","M-1,0A1,0.9,0,1,1,1,0A1,0.9,0,1,1,-1,0Z","M-1,0A1,0.93,0,1,1,1,0A1,0.93,0,1,1,-1,0Z","circle"]}},
        "order": {"field": "r", "sort": "descending"},
        "color": {"field": "v", "type": "quantitative", "title": ["Normalised", "concentration [-]"], "scale": {"type": "log", "interpolate": "rgb", "domain": [0.095,0.15,0.2,0.3,0.5,0.7,1,1.5,2,5,8,10,15,20,30,50,100,110], "range": ["#2b3790","#3040a8","#3a55c0","#6a98e4","#a8d0f8","#a8cce0","#90c0b0","#6aa87a","#5c9c60","#589858","#88bc68","#a8cc78","#eef080","#f4f050","#f4c050","#f26850","#f04a58","#f088b8"]}, "legend": {"values": [0.1,0.2,0.5,1,2,5,10,20,50,100], "format": "~g", "labelExpr": "'\u2014  ' + datum.label"}}}},
      {"transform": [{"filter": "datum.k == 's'"}], "mark": {"type": "point", "filled": true, "opacity": 1, "strokeWidth": 0, "color": "#ffffff", "size": 26}, "encoding": {
        "x": {"field": "cx", "type": "quantitative", "axis": null}, "y": {"field": "cy", "type": "quantitative", "axis": null}}},
      {"transform": [{"filter": "datum.k == 't'"}], "mark": {"type": "text", "font": "Liberation Sans", "fontSize": 24, "baseline": "alphabetic", "color": "#1c1c2a"}, "encoding": {
        "x": {"field": "cx", "type": "quantitative", "axis": null}, "y": {"field": "cy", "type": "quantitative", "axis": null}, "text": {"field": "p", "type": "nominal"}}}
    ]}
  ]
}
